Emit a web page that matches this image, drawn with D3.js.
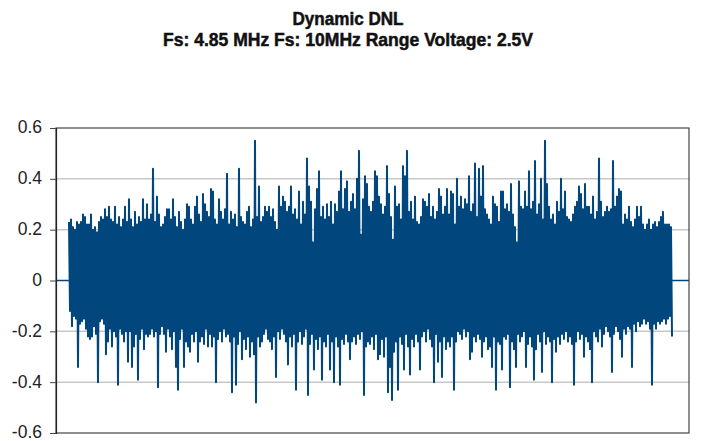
<!DOCTYPE html>
<html>
<head>
<meta charset="utf-8">
<script src="https://cdn.jsdelivr.net/npm/d3@7/dist/d3.min.js"></script>
<style>
  body { margin: 0; background: #fff; }
  svg { display: block; }
</style>
</head>
<body>
<svg width="701" height="441"></svg>
<script>
const titleLines = ['Dynamic DNL', 'Fs: 4.85 MHz Fs: 10MHz Range Voltage: 2.5V']
const yTicks = [-0.6, -0.4, -0.2, 0, 0.2, 0.4, 0.6]
const yTickLabels = ['-0.6', '-0.4', '-0.2', '0', '0.2', '0.4', '0.6']
const gridValues = [-0.4, -0.2, 0.2, 0.4]

// code range of the plot, and where the measured codes sit in it
const codeRange = [0, 633]
const firstCode = 13

// DNL: per pair of codes, the high and the low value
const dnlHigh = [
  0.23, 0.24, 0.21, 0.20, 0.23, 0.22, 0.23, 0.26, 0.25, 0.22,
  0.22, 0.26, 0.20, 0.21, 0.19, 0.23, 0.25, 0.24, 0.28, 0.25,
  0.29, 0.24, 0.23, 0.29, 0.22, 0.25, 0.21, 0.24, 0.29, 0.23,
  0.32, 0.24, 0.21, 0.27, 0.22, 0.25, 0.23, 0.32, 0.24, 0.30,
  0.24, 0.26, 0.44, 0.23, 0.33, 0.26, 0.21, 0.22, 0.25, 0.28,
  0.28, 0.24, 0.32, 0.25, 0.21, 0.27, 0.23, 0.20, 0.24, 0.30,
  0.29, 0.24, 0.22, 0.29, 0.33, 0.26, 0.23, 0.34, 0.30, 0.27,
  0.25, 0.36, 0.35, 0.24, 0.22, 0.32, 0.27, 0.24, 0.28, 0.42,
  0.22, 0.27, 0.24, 0.26, 0.21, 0.44, 0.25, 0.23, 0.22, 0.27,
  0.29, 0.21, 0.24, 0.55, 0.25, 0.37, 0.23, 0.25, 0.29, 0.27,
  0.29, 0.25, 0.28, 0.23, 0.20, 0.37, 0.29, 0.33, 0.31, 0.27,
  0.29, 0.37, 0.26, 0.28, 0.24, 0.35, 0.22, 0.31, 0.26, 0.48,
  0.37, 0.31, 0.15, 0.28, 0.36, 0.43, 0.25, 0.29, 0.24, 0.30,
  0.25, 0.31, 0.22, 0.30, 0.27, 0.35, 0.43, 0.28, 0.36, 0.39,
  0.27, 0.31, 0.34, 0.28, 0.40, 0.51, 0.18, 0.32, 0.41, 0.38,
  0.29, 0.27, 0.31, 0.43, 0.41, 0.33, 0.30, 0.26, 0.29, 0.45,
  0.34, 0.25, 0.16, 0.37, 0.29, 0.30, 0.24, 0.45, 0.41, 0.51,
  0.27, 0.31, 0.24, 0.33, 0.23, 0.22, 0.25, 0.32, 0.31, 0.29,
  0.34, 0.25, 0.29, 0.24, 0.27, 0.36, 0.33, 0.26, 0.29, 0.36,
  0.26, 0.35, 0.34, 0.22, 0.40, 0.29, 0.33, 0.28, 0.32, 0.30,
  0.41, 0.27, 0.30, 0.46, 0.25, 0.44, 0.33, 0.45, 0.28, 0.26,
  0.24, 0.22, 0.33, 0.30, 0.29, 0.23, 0.35, 0.35, 0.28, 0.30,
  0.27, 0.38, 0.26, 0.21, 0.15, 0.39, 0.29, 0.28, 0.35, 0.29,
  0.43, 0.28, 0.31, 0.47, 0.26, 0.30, 0.40, 0.24, 0.55, 0.38,
  0.29, 0.24, 0.26, 0.22, 0.31, 0.27, 0.40, 0.28, 0.35, 0.25,
  0.24, 0.23, 0.26, 0.29, 0.31, 0.37, 0.34, 0.28, 0.38, 0.29,
  0.29, 0.26, 0.33, 0.24, 0.27, 0.48, 0.31, 0.25, 0.27, 0.29,
  0.27, 0.28, 0.47, 0.29, 0.33, 0.36, 0.35, 0.22, 0.26, 0.24,
  0.29, 0.23, 0.21, 0.24, 0.29, 0.25, 0.29, 0.22, 0.20, 0.22,
  0.24, 0.20, 0.22, 0.23, 0.21, 0.23, 0.25, 0.27, 0.22, 0.22,
  0.22, 0.21
]
const dnlLow = [
  -0.12, -0.18, -0.14, -0.15, -0.34, -0.17, -0.16, -0.15, -0.19, -0.22,
  -0.23, -0.22, -0.18, -0.21, -0.40, -0.16, -0.15, -0.17, -0.29, -0.24,
  -0.19, -0.26, -0.20, -0.22, -0.41, -0.19, -0.21, -0.24, -0.20, -0.32,
  -0.20, -0.34, -0.26, -0.21, -0.39, -0.23, -0.19, -0.27, -0.21, -0.22,
  -0.21, -0.19, -0.22, -0.20, -0.42, -0.21, -0.18, -0.21, -0.28, -0.19,
  -0.22, -0.27, -0.20, -0.34, -0.43, -0.23, -0.19, -0.34, -0.24, -0.26,
  -0.28, -0.21, -0.24, -0.20, -0.32, -0.24, -0.22, -0.25, -0.19, -0.26,
  -0.21, -0.26, -0.22, -0.40, -0.23, -0.20, -0.24, -0.19, -0.22, -0.21,
  -0.24, -0.44, -0.22, -0.41, -0.25, -0.20, -0.31, -0.23, -0.27, -0.22,
  -0.30, -0.24, -0.29, -0.48, -0.22, -0.26, -0.24, -0.21, -0.19, -0.23,
  -0.24, -0.27, -0.22, -0.38, -0.20, -0.23, -0.19, -0.21, -0.24, -0.33,
  -0.22, -0.26, -0.21, -0.43, -0.24, -0.20, -0.25, -0.22, -0.19, -0.45,
  -0.25, -0.21, -0.35, -0.23, -0.27, -0.22, -0.39, -0.24, -0.26, -0.21,
  -0.35, -0.24, -0.40, -0.22, -0.26, -0.41, -0.23, -0.25, -0.21, -0.24,
  -0.31, -0.24, -0.22, -0.25, -0.21, -0.23, -0.20, -0.45, -0.26, -0.24,
  -0.25, -0.22, -0.27, -0.21, -0.31, -0.29, -0.23, -0.30, -0.22, -0.44,
  -0.34, -0.47, -0.28, -0.24, -0.43, -0.22, -0.25, -0.35, -0.21, -0.26,
  -0.37, -0.23, -0.26, -0.21, -0.24, -0.35, -0.22, -0.20, -0.24, -0.19,
  -0.23, -0.26, -0.40, -0.21, -0.32, -0.24, -0.38, -0.22, -0.27, -0.24,
  -0.26, -0.22, -0.43, -0.24, -0.20, -0.21, -0.23, -0.19, -0.22, -0.20,
  -0.31, -0.28, -0.22, -0.24, -0.21, -0.23, -0.30, -0.24, -0.22, -0.27,
  -0.26, -0.34, -0.22, -0.43, -0.24, -0.25, -0.35, -0.22, -0.23, -0.21,
  -0.42, -0.24, -0.27, -0.34, -0.21, -0.24, -0.22, -0.20, -0.34, -0.25,
  -0.22, -0.26, -0.39, -0.27, -0.21, -0.24, -0.36, -0.20, -0.25, -0.22,
  -0.24, -0.40, -0.23, -0.28, -0.22, -0.25, -0.21, -0.23, -0.20, -0.24,
  -0.22, -0.25, -0.41, -0.24, -0.20, -0.23, -0.21, -0.30, -0.22, -0.24,
  -0.27, -0.40, -0.20, -0.22, -0.24, -0.19, -0.26, -0.21, -0.18, -0.20,
  -0.22, -0.36, -0.21, -0.18, -0.20, -0.23, -0.30, -0.19, -0.21, -0.18,
  -0.19, -0.34, -0.17, -0.20, -0.16, -0.18, -0.17, -0.15, -0.17, -0.16,
  -0.19, -0.41, -0.17, -0.19, -0.16, -0.17, -0.16, -0.15, -0.17, -0.15,
  -0.14, -0.22
]

let svg = d3.select('svg')
const margin = { top: 128, right: 12, bottom: 8, left: 56 }
const width = +svg.attr('width')
const height = +svg.attr('height')

const x = d3.scaleLinear().domain(codeRange).range([margin.left, width - margin.right])
const y = d3.scaleLinear().domain([-0.6, 0.6]).range([height - margin.bottom, margin.top])

// Title (condensed heavy look: squeeze to width, thicken with a thin stroke)
svg
  .append('g')
  .selectAll('text')
  .data(titleLines)
  .enter()
  .append('text')
  .attr('x', 348)
  .attr('y', (d, i) => 25 + i * 21)
  .attr('text-anchor', 'middle')
  .attr('textLength', (d, i) => (i === 0 ? 111 : 370))
  .attr('lengthAdjust', 'spacingAndGlyphs')
  .style('font-family', '"Liberation Sans Narrow", "Arial Narrow", "Liberation Sans", Arial, sans-serif')
  .style('font-weight', 'bold')
  .style('font-size', '18px')
  .style('fill', '#111')
  .style('stroke', '#111')
  .style('stroke-width', 0.5)
  .text(d => d)

// Grid lines
svg
  .append('g')
  .selectAll('line')
  .data(gridValues)
  .enter()
  .append('line')
  .attr('x1', x(codeRange[0]))
  .attr('x2', x(codeRange[1]))
  .attr('y1', d => y(d))
  .attr('y2', d => y(d))
  .attr('stroke', '#c8c8c8')
  .attr('stroke-width', 1.5)

// Zero line of the series outside the measured codes
svg
  .append('line')
  .attr('x1', x(codeRange[0]))
  .attr('x2', x(codeRange[1]))
  .attr('y1', y(0))
  .attr('y2', y(0))
  .attr('stroke', '#01467c')
  .attr('stroke-width', 1.4)

// Interleave high/low into one series of codes
const series = []
dnlHigh.forEach((h, i) => {
  series.push({ code: firstCode + i * 2, v: h })
  series.push({ code: firstCode + i * 2 + 1, v: dnlLow[i] })
})

const line = d3
  .line()
  .x(d => x(d.code))
  .y(d => y(d.v))

svg
  .append('path')
  .datum(series)
  .attr('d', line)
  .attr('fill', 'none')
  .attr('stroke', '#01467c')
  .attr('stroke-width', 2)
  .attr('stroke-linejoin', 'round')

// Frame
svg
  .append('rect')
  .attr('x', x(codeRange[0]))
  .attr('y', y(0.6))
  .attr('width', x(codeRange[1]) - x(codeRange[0]))
  .attr('height', y(-0.6) - y(0.6))
  .attr('fill', 'none')
  .attr('stroke', '#444')
  .attr('stroke-width', 1.2)

// Y axis
const yAxis = d3
  .axisLeft(y)
  .tickValues(yTicks)
  .tickFormat((d, i) => yTickLabels[i])
  .tickSize(6)
  .tickPadding(8)

const gy = svg
  .append('g')
  .attr('transform', `translate(${margin.left}, 0)`)
  .call(yAxis)

gy.select('.domain').attr('stroke', '#222').attr('stroke-width', 1.2)
gy.selectAll('.tick line').attr('stroke', '#444')
gy.selectAll('.tick text')
  .attr('dy', '0.28em')
  .style('font-family', '"Liberation Sans", Arial, sans-serif')
  .style('font-size', '17.5px')
  .style('fill', '#222')
</script>
</body>
</html>
